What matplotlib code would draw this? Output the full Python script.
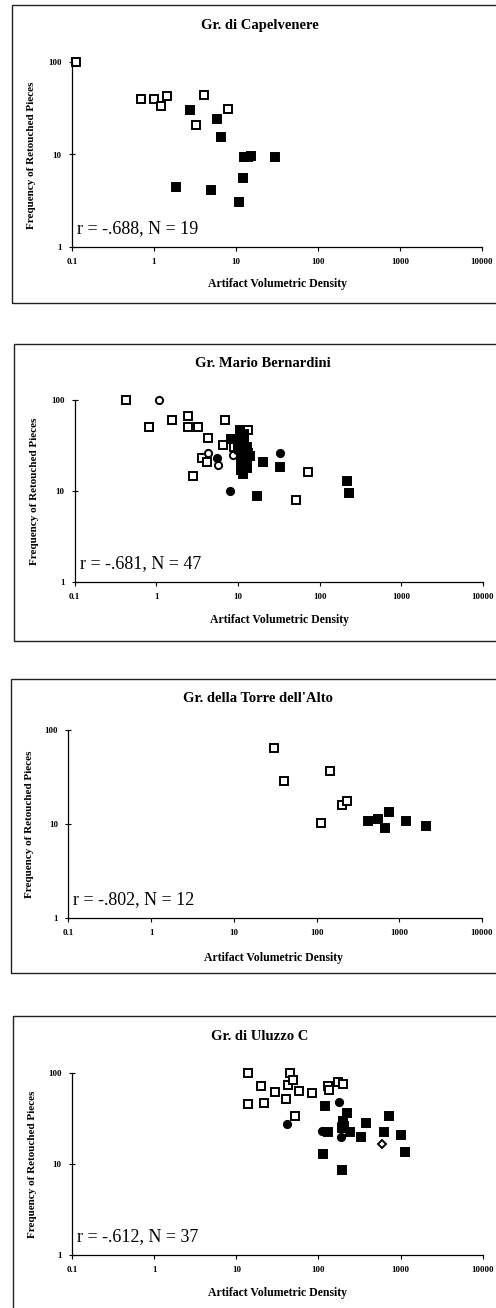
import matplotlib
matplotlib.use('Agg')
import matplotlib.pyplot as plt
from matplotlib.patches import Rectangle

# ---- data (x = artifact volumetric density, y = % retouched) ----
titles = ['Gr. di Capelvenere', 'Gr. Mario Bernardini', "Gr. della Torre dell'Alto", 'Gr. di Uluzzo C']
stats = ['r = -.688, N = 19', 'r = -.681, N = 47', 'r = -.802, N = 12', 'r = -.612, N = 37']
xticks = [0.1, 1, 10, 100, 1000, 10000]
xtick_labels = ['0.1', '1', '10', '100', '1000', '10000']
yticks = [1, 10, 100]
ytick_labels = ['1', '10', '100']

# Capelvenere
cap_osq_x = [0.113, 0.69, 1.0, 1.22, 1.43, 4.03, 3.28, 8.07]
cap_osq_y = [100, 40, 40, 33.6, 42.8, 44, 20.8, 31]
cap_fsq_x = [2.72, 5.86, 6.62, 12.6, 14.2, 15.4, 30.2, 12.3, 1.85, 5.0, 11.0]
cap_fsq_y = [30.2, 24.3, 15.5, 9.44, 9.5, 9.6, 9.44, 5.64, 4.5, 4.14, 3.07]

# Mario Bernardini
mb_osq_x = [0.42, 0.81, 1.54, 2.44, 2.42, 3.23, 4.27, 6.97, 6.53, 13.3, 3.58, 4.12, 2.83, 51, 71.6, 9.0]
mb_osq_y = [100, 49.8, 59.3, 66.8, 49.8, 49.8, 38, 60.3, 32, 46.1, 22.8, 20.6, 14.4, 7.9, 16.2, 30]
mb_oci_x = [1.07, 4.24, 5.73, 8.73]
mb_oci_y = [100, 25.8, 19, 24.7]
mb_fci_x = [33.1, 8.04, 5.5, 9.6]
mb_fci_y = [25.8, 10, 23, 28]
mb_fsq_x = [10.5, 11.0, 8.3, 13.3, 13.0, 11.5, 20.1, 33, 17.3, 218, 227,
            11, 12, 13, 12, 11, 12, 13, 11, 10, 12, 14, 12]
mb_fsq_y = [46.4, 37.6, 37, 25.8, 19, 15.5, 20.9, 18.4, 8.85, 12.7, 9.46,
            40, 35, 30, 25, 22, 20, 18, 17, 30, 28, 24, 42]

# Torre dell'Alto
ta_osq_x = [30.6, 40.8, 147, 203, 231, 112]
ta_osq_y = [63.9, 28.7, 36.1, 15.7, 17.5, 10.2]
ta_fsq_x = [415, 548, 679, 759, 1205, 2123]
ta_fsq_y = [10.8, 11.2, 8.96, 13.4, 10.6, 9.4]

# Uluzzo C
ul_osq_x = [14.0, 14.0, 20, 22, 29.9, 39.9, 45, 42.7, 48.6, 58, 51.4, 84.3, 130, 135, 172, 198]
ul_osq_y = [102, 45.6, 72.5, 47.5, 62.3, 52.2, 102, 73.8, 85, 64.4, 33.6, 61.3, 73.1, 65.1, 81, 75.7]
ul_odi_x = [594]
ul_odi_y = [16.8]
ul_fci_x = [41.9, 178, 111, 190, 190]
ul_fci_y = [27.9, 48, 23.4, 28, 20]
ul_fsq_x = [119, 221, 132, 194, 240, 376, 333, 717, 630, 1023, 1133, 114, 192, 200, 205]
ul_fsq_y = [43.7, 36.3, 22.8, 24.8, 22.8, 28.6, 19.7, 33.6, 22.8, 20.8, 13.6, 12.9, 8.63, 30, 26]

W, H = 496, 1308
fig = plt.figure(figsize=(W / 100, H / 100), dpi=100)
serif = ['Liberation Serif', 'DejaVu Serif']

# pixel layout of each panel: axes box, frame box, title/xlabel/ylabel centres
axes_px = [(72, 62, 482, 247), (74.7, 399.7, 483, 582), (68.3, 729.7, 482, 918), (72, 1073.3, 482.7, 1255)]
frame_px = [(12, 5, 520, 303), (14, 344, 520, 641), (10.7, 679, 520, 973), (13, 1016, 520, 1330)]
title_px = [(260, 25), (262.5, 363), (257.5, 699), (259.7, 1036)]
xlab_px = [(277, 284), (280, 620), (273.7, 958), (278, 1293)]
ylab_px = [(32, 155), (35, 491), (30, 824), (32.3, 1164)]

series = [
    [(cap_osq_x, cap_osq_y, 's', 'white'), (cap_fsq_x, cap_fsq_y, 's', 'black')],
    [(mb_osq_x, mb_osq_y, 's', 'white'), (mb_oci_x, mb_oci_y, 'o', 'white'),
     (mb_fsq_x, mb_fsq_y, 's', 'black'), (mb_fci_x, mb_fci_y, 'o', 'black')],
    [(ta_osq_x, ta_osq_y, 's', 'white'), (ta_fsq_x, ta_fsq_y, 's', 'black')],
    [(ul_osq_x, ul_osq_y, 's', 'white'), (ul_odi_x, ul_odi_y, 'D', 'white'),
     (ul_fsq_x, ul_fsq_y, 's', 'black'), (ul_fci_x, ul_fci_y, 'o', 'black')],
]

for i in range(4):
    x0, y0, x1, y1 = axes_px[i]
    ax = fig.add_axes([x0 / W, 1 - y1 / H, (x1 - x0) / W, (y1 - y0) / H])
    ax.set_xscale('log')
    ax.set_yscale('log')
    ax.set_xlim(0.1, 10000)
    ax.set_ylim(1, 100)
    for xs, ys, m, fc in series[i]:
        ms = 5.4 if m == 's' else (5.2 if m == 'o' else 4.2)
        ax.plot(xs, ys, m, ms=ms, mfc=fc, mec='black', mew=1.4, clip_on=False)
    for s in ['top', 'right']:
        ax.spines[s].set_visible(False)
    for s in ['left', 'bottom']:
        ax.spines[s].set_linewidth(0.9)
    ax.set_xticks(xticks)
    ax.set_xticklabels(xtick_labels)
    ax.set_yticks(yticks)
    ax.set_yticklabels(ytick_labels)
    ax.minorticks_off()
    ax.tick_params(axis='x', direction='out', length=3, width=0.8, pad=5)
    ax.tick_params(axis='y', direction='inout', length=5, width=0.8, pad=5)
    for lab in ax.get_xticklabels() + ax.get_yticklabels():
        lab.set_family(serif)
        lab.set_fontsize(6.5)
        lab.set_fontweight('bold')
    ax.text(0.012, 0.1, stats[i], transform=ax.transAxes, fontsize=13,
            family=serif, va='center', ha='left')

    fx0, fy0, fx1, fy1 = frame_px[i]
    fig.add_artist(Rectangle((fx0 / W, 1 - fy1 / H), (fx1 - fx0) / W, (fy1 - fy0) / H,
                             transform=fig.transFigure, fill=False, lw=1.0,
                             edgecolor='#222222', clip_on=False))
    tx, ty = title_px[i]
    fig.text(tx / W, 1 - ty / H, titles[i], ha='center', va='center',
             fontsize=10.5, fontweight='bold', family=serif)
    lx, ly = xlab_px[i]
    fig.text(lx / W, 1 - ly / H, 'Artifact Volumetric Density', ha='center', va='center',
             fontsize=8.5, fontweight='bold', family=serif)
    vx, vy = ylab_px[i]
    fig.text(vx / W, 1 - vy / H, 'Frequency of Retouched Pieces', ha='center', va='center',
             rotation=90, fontsize=8, fontweight='bold', family=serif)

fig.savefig('out.png', dpi=100)
